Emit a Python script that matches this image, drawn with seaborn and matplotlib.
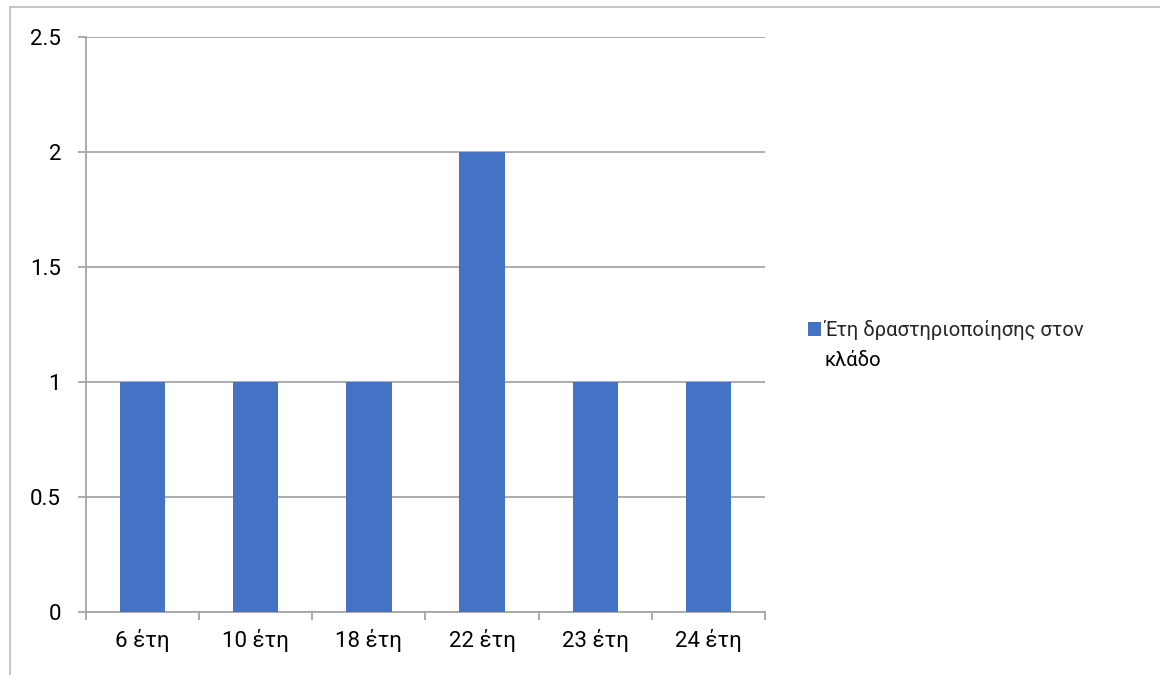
import matplotlib
matplotlib.use("Agg")
import matplotlib.pyplot as plt
from matplotlib.patches import Patch, Rectangle
import seaborn as sns
import pandas as pd

# Data
categories = ["6 έτη", "10 έτη", "18 έτη", "22 έτη", "23 έτη", "24 έτη"]
values = [1, 1, 1, 2, 1, 1]
series_name = "Έτη δραστηριοποίησης στον κλάδο"
y_ticks = [0, 0.5, 1, 1.5, 2, 2.5]
y_tick_labels = ["0", "0.5", "1", "1.5", "2", "2.5"]

BAR = "#4472C4"
GRID = "#A6A6A6"
W, H = 1160, 675

sns.set_theme(style="white")
plt.rcParams["font.family"] = ["Roboto", "DejaVu Sans"]
FS_TICK = 16
FS_LEG = 14.5

df = pd.DataFrame({"cat": categories, "val": values})

fig = plt.figure(figsize=(W / 100, H / 100), dpi=100)
ax = fig.add_axes([86 / W, 1 - 612 / H, (765 - 86) / W, (612 - 37) / H])

sns.barplot(data=df, x="cat", y="val", color=BAR, width=0.4, saturation=1,
            ax=ax, zorder=3, edgecolor="none", linewidth=0)

ax.set_xlim(-0.5, len(categories) - 0.5)
ax.set_ylim(0, 2.5)
ax.set_yticks(y_ticks)
ax.set_yticklabels(y_tick_labels)
ax.set_xlabel("")
ax.set_ylabel("")

ax.yaxis.grid(True, color=GRID, linewidth=1.3, zorder=0)
ax.set_axisbelow(True)

for s in ["top", "right"]:
    ax.spines[s].set_visible(False)
for s in ["left", "bottom"]:
    ax.spines[s].set_color(GRID)
    ax.spines[s].set_linewidth(1.3)

# category boundary tick marks on the x axis
ax.set_xticks([i - 0.5 for i in range(len(categories) + 1)], minor=True)
ax.tick_params(axis="x", which="minor", length=6, width=1.3, color=GRID,
               direction="out", bottom=True)
ax.tick_params(axis="x", which="major", length=0, pad=12, labelsize=FS_TICK,
               labelcolor="black")
ax.tick_params(axis="y", which="major", length=6, width=1.3, color=GRID,
               direction="out", left=True, pad=12, labelsize=FS_TICK,
               labelcolor="black")

# legend (first line with the swatch, remainder wrapped below)
words = series_name.split(" ")
line1 = " ".join(words[:-1])
line2 = words[-1]
leg = fig.legend(handles=[Patch(facecolor=BAR, edgecolor="none")],
                 labels=[line1], loc="upper left",
                 bbox_to_anchor=(808 / W, 1 - 320 / H), frameon=False,
                 fontsize=FS_LEG, handlelength=0.65, handleheight=0.65,
                 handletextpad=0.15, borderpad=0, borderaxespad=0)
fig.canvas.draw()
tb = leg.get_texts()[0].get_window_extent()
fig.text(tb.x0 / W, (tb.y0 - 30) / H, line2, fontsize=FS_LEG, color="black",
         ha="left", va="bottom")

# chart area border
fig.patches.append(Rectangle((10 / W, -0.1), 1.2, 1 - 7 / H + 0.1,
                             transform=fig.transFigure, fill=False,
                             edgecolor="#BFBFBF", linewidth=1.3))

fig.savefig("out.png", dpi=100)
